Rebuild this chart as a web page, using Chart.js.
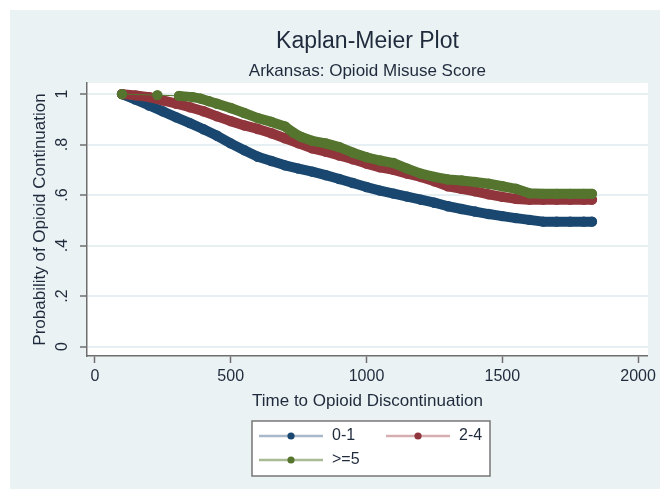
<!DOCTYPE html>
<html>
<head>
<meta charset="utf-8">
<script src="https://cdn.jsdelivr.net/npm/chart.js@4"></script>
<style>
  body { margin: 0; background: #fff; }
  canvas { display: block; }
</style>
</head>
<body>
<canvas id="km" width="660" height="490"></canvas>
<script>
// time points (days) and survival estimates
const days01 = [100, 150, 200, 250, 300, 350, 400, 450, 500, 550, 600, 650, 700, 750, 800, 850, 900, 950, 1000, 1050, 1100, 1150, 1200, 1250, 1300, 1350, 1400, 1450, 1500, 1550, 1600, 1650, 1700, 1750, 1800, 1830]
const surv01 = [1.000, 0.978, 0.955, 0.932, 0.908, 0.885, 0.861, 0.835, 0.805, 0.778, 0.752, 0.735, 0.718, 0.705, 0.693, 0.679, 0.664, 0.648, 0.632, 0.618, 0.606, 0.594, 0.582, 0.570, 0.556, 0.545, 0.535, 0.525, 0.517, 0.509, 0.502, 0.495, 0.495, 0.495, 0.495, 0.495]

const days24 = [100, 150, 200, 250, 300, 350, 400, 450, 500, 550, 600, 650, 700, 750, 800, 850, 900, 950, 1000, 1050, 1100, 1150, 1200, 1250, 1300, 1350, 1400, 1450, 1500, 1550, 1600, 1650, 1700, 1750, 1800, 1830]
const surv24 = [1.000, 0.995, 0.988, 0.975, 0.962, 0.948, 0.932, 0.912, 0.893, 0.876, 0.862, 0.845, 0.825, 0.805, 0.785, 0.772, 0.757, 0.742, 0.725, 0.710, 0.700, 0.685, 0.672, 0.655, 0.635, 0.625, 0.615, 0.603, 0.593, 0.585, 0.582, 0.582, 0.582, 0.582, 0.582, 0.582]

const days5 = [100, 230, 310, 360, 390, 420, 450, 500, 550, 600, 650, 700, 730, 760, 800, 850, 900, 950, 1000, 1050, 1100, 1150, 1200, 1250, 1300, 1350, 1400, 1450, 1500, 1550, 1600, 1650, 1700, 1750, 1800, 1830]
const surv5 = [1.000, 0.996, 0.993, 0.988, 0.982, 0.972, 0.962, 0.945, 0.925, 0.905, 0.890, 0.872, 0.848, 0.830, 0.815, 0.805, 0.790, 0.768, 0.750, 0.737, 0.727, 0.705, 0.685, 0.672, 0.662, 0.658, 0.652, 0.645, 0.635, 0.625, 0.607, 0.605, 0.605, 0.605, 0.605, 0.605]

const groups = ['0-1', '2-4', '>=5']
const xTicks = [0, 500, 1000, 1500, 2000]
const yTicks = [0, 0.2, 0.4, 0.6, 0.8, 1]
const yTickLabels = ['0', '.2', '.4', '.6', '.8', '1']

const colores = ['#1a476f', '#90353b', '#55752f']
const colLeyenda = ['#a9b8c9', '#d5aeb1', '#a9bb95']
const txtColor = '#1f2a3c'
const fuente = '"Liberation Sans", Arial, sans-serif'

function pares(xs, ys) {
    return xs.map((x, i) => ({ x: x, y: ys[i] }))
}

function serie(label, data, color, order) {
    return {
        label: label,
        data: data,
        borderColor: color,
        backgroundColor: color,
        borderWidth: 10,
        pointRadius: 5.2,
        pointBorderWidth: 0,
        pointBackgroundColor: color,
        borderCapStyle: 'round',
        borderJoinStyle: 'round',
        tension: 0,
        order: order,
        // sparse stretches show only the markers, like the original
        segment: {
            borderWidth: ctx => (ctx.p1.x - ctx.p0.x > 16 ? 0 : 10)
        }
    }
}

const fondo = {
    id: 'fondo',
    beforeDraw(chart) {
        const ctx = chart.ctx
        const a = chart.chartArea
        ctx.save()
        ctx.fillStyle = '#ffffff'
        ctx.fillRect(0, 0, chart.width, chart.height)
        ctx.fillStyle = '#eaf2f3'
        ctx.fillRect(10, 10, chart.width - 10, chart.height - 11)
        ctx.fillStyle = '#ffffff'
        ctx.fillRect(a.left, a.top, a.right - a.left, a.bottom - a.top)
        ctx.restore()
    }
}

const textos = {
    id: 'textos',
    afterDraw(chart) {
        const ctx = chart.ctx
        const a = chart.chartArea
        const cx = (a.left + a.right) / 2
        const ys = chart.scales.y
        ctx.save()
        ctx.fillStyle = txtColor
        ctx.textAlign = 'center'
        ctx.textBaseline = 'middle'

        ctx.font = '23px ' + fuente
        ctx.fillText('Kaplan-Meier Plot', cx, 42)
        ctx.font = '17px ' + fuente
        ctx.fillText('Arkansas: Opioid Misuse Score', cx, 71)
        ctx.fillText('Time to Opioid Discontinuation', cx, 401)

        // y title and y tick labels, rotated like the original
        ctx.save()
        ctx.translate(40, (a.top + a.bottom) / 2)
        ctx.rotate(-Math.PI / 2)
        ctx.fillText('Probability of Opioid Continuation', 0, 0)
        ctx.restore()

        ctx.font = '16px ' + fuente
        yTicks.forEach((v, i) => {
            ctx.save()
            ctx.translate(63, ys.getPixelForValue(v))
            ctx.rotate(-Math.PI / 2)
            ctx.fillText(yTickLabels[i], 0, 0)
            ctx.restore()
        })

        // legend
        const bx = 252, by = 421, bw = 238, bh = 55
        ctx.fillStyle = '#ffffff'
        ctx.fillRect(bx, by, bw, bh)
        ctx.strokeStyle = '#777777'
        ctx.lineWidth = 1.5
        ctx.strokeRect(bx, by, bw, bh)
        const pos = [[259, 436], [386, 436], [259, 460]]
        ctx.font = '16px ' + fuente
        ctx.textAlign = 'left'
        groups.forEach((g, i) => {
            const [lx, ly] = pos[i]
            ctx.strokeStyle = colLeyenda[i]
            ctx.lineWidth = 2.5
            ctx.beginPath()
            ctx.moveTo(lx, ly)
            ctx.lineTo(lx + 64, ly)
            ctx.stroke()
            ctx.fillStyle = colores[i]
            ctx.beginPath()
            ctx.arc(lx + 32, ly, 3.6, 0, Math.PI * 2)
            ctx.fill()
            ctx.fillStyle = txtColor
            ctx.fillText(g, lx + 73, ly)
        })
        ctx.restore()
    }
}

const config = {
    type: 'line',
    data: {
        datasets: [
            serie(groups[0], pares(days01, surv01), colores[0], 2),
            serie(groups[1], pares(days24, surv24), colores[1], 1),
            serie(groups[2], pares(days5, surv5), colores[2], 0)
        ]
    },
    options: {
        responsive: false,
        animation: false,
        layout: { padding: { top: 83, left: 0, right: 3, bottom: 0 } },
        plugins: {
            legend: { display: false },
            title: { display: false },
            tooltip: { enabled: false }
        },
        scales: {
            x: {
                type: 'linear',
                min: -29,
                max: 2036,
                afterFit: s => { s.height = 134 },
                afterBuildTicks: s => { s.ticks = xTicks.map(v => ({ value: v })) },
                border: { color: '#6e6e6e', width: 1.5 },
                grid: { drawOnChartArea: false, drawTicks: true, tickLength: 7, tickColor: '#6e6e6e', tickWidth: 1.5 },
                ticks: {
                    color: txtColor,
                    font: { family: fuente, size: 16 },
                    padding: 4,
                    maxRotation: 0,
                    callback: v => String(v)
                }
            },
            y: {
                type: 'linear',
                min: -0.037,
                max: 1.044,
                afterFit: s => { s.width = 87 },
                afterBuildTicks: s => { s.ticks = yTicks.map(v => ({ value: v })) },
                border: { color: '#6e6e6e', width: 1.5 },
                grid: { color: '#e6eff1', lineWidth: 2, drawTicks: true, tickLength: 7, tickColor: '#6e6e6e', tickWidth: 1.5 },
                ticks: { display: false }
            }
        }
    },
    plugins: [fondo, textos]
}

const grafica = new Chart(document.getElementById('km'), config)
</script>
</body>
</html>
